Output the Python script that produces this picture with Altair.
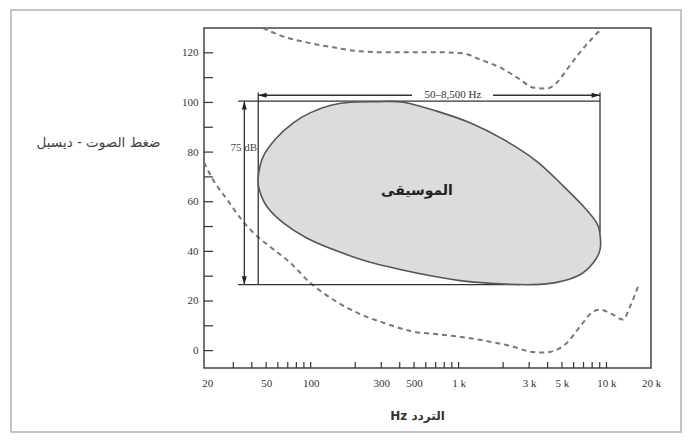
import altair as alt
import pandas as pd

# ---------------- data ----------------
x_label_values = [20, 50, 100, 300, 500, 1000, 3000, 5000, 10000, 20000]
x_minor_ticks = [30, 40, 50, 60, 70, 80, 90, 100,
                 200, 300, 400, 500, 600, 700, 800, 900, 1000,
                 2000, 3000, 4000, 5000, 6000, 7000, 8000, 9000, 10000]
y_label_values = [0, 20, 40, 60, 80, 100, 120]
y_minor_ticks = [0, 10, 20, 30, 40, 50, 60, 70, 80, 90, 100, 110, 120]

# threshold of pain (upper dashed curve)
pain_hz = [47.6, 65, 94, 142, 216, 328, 492, 748, 1071, 1397, 1906, 2600,
           3185, 3960, 4630, 5408, 6620, 8110, 9330]
pain_db = [130, 126.6, 124.2, 122.2, 120.6, 120.2, 120.2, 120.2, 119.8, 117.3,
           114.1, 109.3, 106.0, 105.6, 108.1, 113.3, 120.2, 126.2, 129.8]

# threshold of hearing (lower dashed curve)
hear_hz = [19, 21.8, 27.2, 33.3, 40.8, 53.1, 72.5, 99, 141.6, 205.7, 308, 492,
           748, 1140, 1630, 2333, 3040, 3725, 4630, 5408, 6620, 8110, 9040,
           11060, 12940, 14420, 16330]
hear_db = [75.8, 69.0, 60.9, 53.6, 47.6, 41.9, 35.5, 27.4, 20.6, 15.3, 11.3, 7.7,
           6.5, 5.2, 3.6, 1.6, -0.4, -0.8, 0.4, 3.2, 9.7, 15.7, 16.5,
           14.5, 12.5, 17.7, 25.8]

# music region outline (closed, clockwise from the leftmost point)
music_hz = [44.2, 47.8, 58.9, 76.3, 99.0, 135.1, 184.5, 279.7, 423, 711, 1195,
            2007, 3376, 5107, 6971, 8590, 9042, 9042, 8147, 6622, 4608, 3201,
            1906, 1135, 675, 402, 239, 142.2, 94.0, 65.3, 50.4, 44.9]
music_db = [70.2, 78.3, 85.8, 91.8, 95.8, 98.8, 100.1, 100.3, 100.1, 96.5, 91.8,
            85.1, 76.3, 66.3, 58.2, 51.5, 46.8, 40.7, 35.4, 30.6, 27.5, 26.6,
            26.9, 27.9, 30.0, 32.7, 36.0, 40.7, 45.4, 51.5, 58.2, 64.9]

# annotation lines (rectangle, dimension arrows)
seg_x1 = [32.3, 32.3, 44.2, 9042, 35.6, 44.2, 1708]
seg_x2 = [9042, 2602, 44.2, 9042, 35.6, 484, 9042]
seg_y1 = [100.5, 26.6, 26.6, 104.0, 26.6, 102.9, 102.9]
seg_y2 = [100.5, 26.6, 104.0, 47.6, 100.5, 102.9, 102.9]

arrow_hz = [44.2, 9042, 35.6, 35.6]
arrow_db = [102.9, 102.9, 100.5, 26.6]
arrow_shape = ["M0,0 L2,-0.6 L2,0.6 Z", "M0,0 L-2,-0.6 L-2,0.6 Z",
               "M0,0 L-0.6,2 L0.6,2 Z", "M0,0 L-0.6,-2 L0.6,-2 Z"]

label_range_text = "50–8,500 Hz"
label_range_pos = (917, 102.9)
label_db_text = "75 dB"
label_db_pos = (43.4, 81.8)
label_music_text = "الموسيقى"
label_music_pos = (523, 64.5)

y_title = "ضغط الصوت - ديسبل"
x_title = "Hz التردد"

# ---------------- chart ----------------
W, H = 447, 340
xscale = alt.Scale(type="log", domain=[19, 20000], nice=False)
yscale = alt.Scale(domain=[-7, 130], nice=False, zero=False)
serif = "Liberation Serif"

pain = pd.DataFrame({"hz": pain_hz, "db": pain_db})
hear = pd.DataFrame({"hz": hear_hz, "db": hear_db})
music = pd.DataFrame({"hz": music_hz, "db": music_db, "i": list(range(len(music_hz)))})
segs = pd.DataFrame({"hz": seg_x1, "hz2": seg_x2, "db": seg_y1, "db2": seg_y2})
arrows = pd.DataFrame({"hz": arrow_hz, "db": arrow_db, "shape": arrow_shape})

x_axis = alt.Axis(values=x_label_values,
                  labelExpr="datum.value >= 1000 ? (datum.value/1000) + ' k' : '' + datum.value",
                  ticks=False, domain=False, grid=False, labelPadding=9,
                  labelFont=serif, labelFontSize=11, labelColor="#333",
                  labelFlush=False, labelOverlap=False,
                  title=x_title, titleFont="DejaVu Sans", titleFontSize=12,
                  titleFontWeight="bold", titleColor="#333",
                  titleX=213, titleY=42, titleAlign="center")
y_axis = alt.Axis(values=y_label_values, ticks=False, domain=False, grid=False,
                  labelPadding=6, labelFont=serif, labelFontSize=11, labelColor="#333",
                  labelFlush=False,
                  title=y_title, titleAngle=0, titleFont="DejaVu Sans",
                  titleFontSize=13.5, titleFontWeight="normal", titleColor="#444",
                  titleX=-106, titleY=114, titleAlign="center", titleBaseline="middle")

X = alt.X("hz:Q", scale=xscale, axis=x_axis)
Y = alt.Y("db:Q", scale=yscale, axis=y_axis)

base_pain = alt.Chart(pain).mark_line(
    stroke="#777", strokeWidth=2, strokeDash=[5, 4], clip=True, interpolate="monotone"
).encode(x=X, y=Y)

hear_line = alt.Chart(hear).mark_line(
    stroke="#777", strokeWidth=2, strokeDash=[5, 4], clip=True, interpolate="monotone"
).encode(x=X, y=Y)

seg_lines = alt.Chart(segs).mark_rule(color="#333", strokeWidth=1.3).encode(
    x=X, x2="hz2:Q", y=Y, y2="db2:Q")

music_shape = alt.Chart(music).mark_line(
    fill="#dcdcdc", stroke="#555", strokeWidth=1.6, interpolate="cardinal-closed"
).encode(x=X, y=Y, order="i:Q")

arrow_heads = alt.Chart(arrows).mark_point(
    filled=True, color="#222", size=70, opacity=1
).encode(x=X, y=Y, shape=alt.Shape("shape:N", scale=None))

def text_layer(txt, pos, **kw):
    df = pd.DataFrame({"hz": [pos[0]], "db": [pos[1]], "t": [txt]})
    return alt.Chart(df).mark_text(**kw).encode(x=X, y=Y, text="t:N")

t_range = text_layer(label_range_text, label_range_pos, font=serif, fontSize=11,
                     color="#333", align="center", baseline="middle")
t_db = text_layer(label_db_text, label_db_pos, font=serif, fontSize=11,
                  color="#444", align="right", baseline="middle")
t_music = text_layer(label_music_text, label_music_pos, font="DejaVu Sans", fontSize=14,
                     fontWeight="bold", color="#222", align="center", baseline="middle")

ytick_df = pd.DataFrame({"db": y_minor_ticks})
y_ticks = alt.Chart(ytick_df).mark_rule(color="#333", strokeWidth=1.2).encode(
    y=Y, x=alt.value(0), x2=alt.value(9))

xtick_df = pd.DataFrame({"hz": x_minor_ticks})
x_ticks = alt.Chart(xtick_df).mark_rule(color="#333", strokeWidth=1.2).encode(
    x=X, y=alt.value(H), y2=alt.value(H - 6))

# outer picture frame (decoration only)
frame = alt.Chart(pd.DataFrame({"a": [0]})).mark_rect(
    fillOpacity=0, stroke="#c4c4c4", strokeWidth=2
).encode(x=alt.value(-193), x2=alt.value(477), y=alt.value(-18), y2=alt.value(404))

chart = alt.layer(
    base_pain, hear_line, seg_lines, music_shape, arrow_heads,
    t_range, t_db, t_music, y_ticks, x_ticks, frame
).properties(
    width=W, height=H,
    autosize=alt.AutoSizeParams(type="none"),
    padding={"left": 196, "top": 20, "right": 32, "bottom": 66},
    background="white"
).configure_view(stroke="#444", strokeWidth=1.5)

chart.save("out.html", embed_options={"renderer": "svg", "actions": False})
